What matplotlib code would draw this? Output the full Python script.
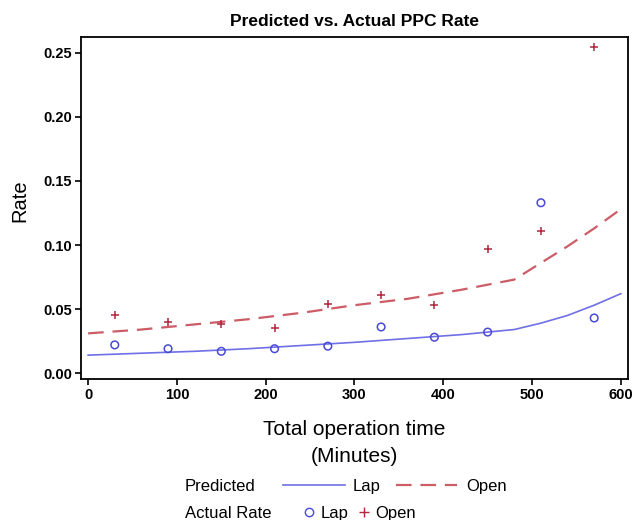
"""Predicted vs. actual PPC rate by total operation time (Lap vs. Open)."""
import matplotlib
matplotlib.use("Agg")
import matplotlib.pyplot as plt
from matplotlib.lines import Line2D

plt.rcParams["font.family"] = ["Liberation Sans", "DejaVu Sans"]

# -- observed rates at the midpoint of each 60-minute bin --
actual_minutes = [30, 90, 150, 210, 270, 330, 390, 450, 510, 570]
actual_lap = [0.022, 0.019, 0.017, 0.019, 0.021, 0.036, 0.028, 0.032, 0.133, 0.043]
actual_open = [0.045, 0.040, 0.038, 0.035, 0.054, 0.061, 0.053, 0.097, 0.111, 0.255]

# -- model predictions (spline with knot near 480 min) --
pred_minutes = [0, 60, 120, 180, 240, 300, 360, 420, 480, 510, 540, 570, 600]
pred_lap = [0.014, 0.0155, 0.017, 0.019, 0.0215, 0.024, 0.027, 0.030, 0.034,
            0.039, 0.045, 0.053, 0.062]
pred_open = [0.031, 0.034, 0.038, 0.042, 0.047, 0.053, 0.058, 0.065, 0.073,
             0.086, 0.099, 0.113, 0.128]

x_ticks = [0, 100, 200, 300, 400, 500, 600]
y_ticks = [0.00, 0.05, 0.10, 0.15, 0.20, 0.25]

LAP_LINE = "#6f6fe6"
OPEN_LINE = "#cc5c66"
LAP_MARK = "#4a4ad6"
OPEN_MARK = "#b3263e"
DASH = (0, (7, 4))

fig = plt.figure(figsize=(6.33, 5.2), dpi=100)
ax = fig.add_axes([0.128, 0.271, 0.864, 0.658])

ax.plot(pred_minutes, pred_lap, color=LAP_LINE, linewidth=1.2)
ax.plot(pred_minutes, pred_open, color=OPEN_LINE, linewidth=1.6, linestyle=DASH)
ax.scatter(actual_minutes, actual_lap, marker="o", s=30, facecolors="none",
           edgecolors=LAP_MARK, linewidths=1.1, zorder=3)
ax.scatter(actual_minutes, actual_open, marker="+", s=36, color=OPEN_MARK,
           linewidths=1.1, zorder=3)

ax.set_xlim(-8, 608)
ax.set_ylim(-0.0047, 0.2625)
ax.set_xticks(x_ticks)
ax.set_yticks(y_ticks)
ax.set_yticklabels([f"{v:.2f}" for v in y_ticks])
ax.tick_params(direction="out", length=4, width=1.2, pad=2.5, labelsize=10.5)
for lab in ax.get_xticklabels() + ax.get_yticklabels():
    lab.set_fontweight("bold")
for sp in ax.spines.values():
    sp.set_linewidth(1.3)

ax.set_title("Predicted vs. Actual PPC Rate", fontsize=12.5, fontweight="bold", pad=8)
ax.set_ylabel("Rate", fontsize=14.5)
ax.yaxis.set_label_coords(-0.095, 0.52)
ax.set_xlabel("Total operation time\n(Minutes)", fontsize=15, labelpad=13,
              linespacing=1.5)

# -- two-row legend with row captions, as in the SAS output --
fig.text(0.292, 0.065, "Predicted", fontsize=12, va="center")
fig.text(0.292, 0.013, "Actual Rate", fontsize=12, va="center")
pred_handles = [Line2D([], [], color=LAP_LINE, linewidth=1.2),
                Line2D([], [], color=OPEN_LINE, linewidth=1.6, linestyle=DASH)]
act_handles = [Line2D([], [], color=LAP_MARK, marker="o", markerfacecolor="none",
                      linestyle="none", markersize=6),
               Line2D([], [], color=OPEN_MARK, marker="+", linestyle="none",
                      markersize=7)]
fig.legend(pred_handles, ["Lap", "Open"], ncol=2, frameon=False,
           loc="center left", bbox_to_anchor=(0.447, 0.065),
           fontsize=12, handlelength=3.7, handletextpad=0.5,
           columnspacing=0.9, borderaxespad=0, borderpad=0)
fig.legend(act_handles, ["Lap", "Open"], ncol=2, frameon=False,
           loc="center left", bbox_to_anchor=(0.475, 0.013),
           fontsize=12, handlelength=1.0, handletextpad=0.2,
           columnspacing=0.4, borderaxespad=0, borderpad=0)

fig.savefig("out.png", dpi=100)
plt.close(fig)
